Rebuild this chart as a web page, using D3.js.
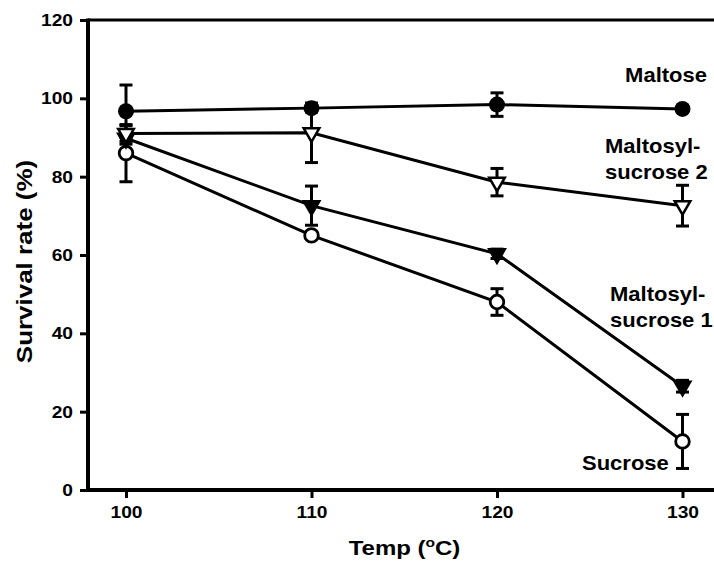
<!DOCTYPE html>
<html>
<head>
<meta charset="utf-8">
<script src="https://cdn.jsdelivr.net/npm/d3@7"></script>
<style>
  body { margin: 0; background: #fff; }
  text { font-family: "Liberation Sans", Arial, sans-serif; font-weight: bold; fill: #000; }
</style>
</head>
<body>
<div id="chart"></div>
<script>
// Data
const temps = [100, 110, 120, 130];
const yTicks = [0, 20, 40, 60, 80, 100, 120];

const maltose = [96.7, 97.5, 98.4, 97.3];
const maltoseErr = [6.7, 1.0, 3.0, 0.8];

const ms2 = [91.0, 91.2, 78.6, 72.6];
const ms2Err = [2.0, 7.6, 3.5, 5.2];

const ms1 = [89.8, 72.6, 60.3, 26.5];
const ms1Err = [1.5, 5.0, 1.2, 1.5];

const sucrose = [86.0, 65.0, 48.0, 12.4];
const sucroseErr = [7.3, 0.8, 3.4, 6.9];

const width = 714, height = 562;
const plotLeft = 88, plotTop = 20, plotBottom = 490;
// the original type is a bit wider than Arial, so stretch text horizontally
const tickStretch = 1.13;

const svg = d3.select("#chart").append("svg")
    .attr("width", width)
    .attr("height", height);

const x = d3.scaleLinear().domain([100, 130]).range([126, 682.5]);
const y = d3.scaleLinear().domain([0, 120]).range([plotBottom, plotTop]);

// Axes
const yAxis = svg.append("g")
    .attr("transform", `translate(${plotLeft},0)`)
    .call(d3.axisLeft(y).tickValues(yTicks).tickSize(8).tickPadding(8));
yAxis.select(".domain").remove();
yAxis.selectAll("line").attr("stroke", "#000").attr("stroke-width", 3);
yAxis.selectAll("text")
    .style("font-size", "17px").attr("fill", "#000")
    .attr("x", -15 / tickStretch)
    .attr("transform", `scale(${tickStretch},1)`);

const xAxis = svg.append("g")
    .attr("transform", `translate(0,${plotBottom})`)
    .call(d3.axisBottom(x).tickValues(temps).tickSize(8).tickPadding(8));
xAxis.select(".domain").remove();
xAxis.selectAll("line").attr("stroke", "#000").attr("stroke-width", 3);
xAxis.selectAll("text")
    .style("font-size", "17px").attr("fill", "#000")
    .attr("transform", `scale(${tickStretch},1)`);

// frame lines: left axis, bottom axis, top line
svg.append("line").attr("x1", plotLeft).attr("x2", plotLeft).attr("y1", plotTop - 1.5).attr("y2", plotBottom + 2)
    .attr("stroke", "#000").attr("stroke-width", 4);
svg.append("line").attr("x1", plotLeft - 2).attr("x2", width).attr("y1", plotBottom).attr("y2", plotBottom)
    .attr("stroke", "#000").attr("stroke-width", 4);
svg.append("line").attr("x1", plotLeft).attr("x2", width).attr("y1", plotTop).attr("y2", plotTop)
    .attr("stroke", "#000").attr("stroke-width", 3);

const series = [
    { name: "sucrose", values: sucrose, err: sucroseErr, marker: "circle", fill: "#fff" },
    { name: "ms1", values: ms1, err: ms1Err, marker: "triangle", fill: "#000" },
    { name: "maltose", values: maltose, err: maltoseErr, marker: "circle", fill: "#000" },
    { name: "ms2", values: ms2, err: ms2Err, marker: "triangle", fill: "#fff" }
];

const line = d3.line()
    .x((d, i) => x(temps[i]))
    .y(d => y(d));

// connecting lines
series.forEach(s => {
    svg.append("path")
        .datum(s.values)
        .attr("fill", "none")
        .attr("stroke", "#000")
        .attr("stroke-width", 3)
        .attr("d", line);
});

// error bars
series.forEach(s => {
    const g = svg.append("g").attr("stroke", "#000").attr("stroke-width", 3);
    s.values.forEach((v, i) => {
        const cx = x(temps[i]);
        g.append("line").attr("x1", cx).attr("x2", cx)
            .attr("y1", y(v - s.err[i])).attr("y2", y(v + s.err[i]));
        [v - s.err[i], v + s.err[i]].forEach(e => {
            g.append("line").attr("x1", cx - 6.5).attr("x2", cx + 6.5)
                .attr("y1", y(e)).attr("y2", y(e));
        });
    });
});

// markers
const tri = d3.symbol().type(d3.symbolTriangle).size(105);
series.forEach(s => {
    s.values.forEach((v, i) => {
        const cx = x(temps[i]), cy = y(v);
        if (s.marker === "circle") {
            svg.append("circle")
                .attr("cx", cx).attr("cy", cy)
                .attr("r", s.fill === "#000" ? 8 : 6.8)
                .attr("fill", s.fill)
                .attr("stroke", "#000")
                .attr("stroke-width", s.fill === "#000" ? 0 : 2.8);
        } else {
            svg.append("path")
                .attr("d", tri())
                .attr("transform", `translate(${cx},${cy}) rotate(180)`)
                .attr("fill", s.fill)
                .attr("stroke", "#000")
                .attr("stroke-width", 2.5)
                .attr("stroke-linejoin", "miter");
        }
    });
});

// series labels
const labels = [
    { lines: ["Maltose"], x: 707, y: 82, anchor: "end" },
    { lines: ["Maltosyl-", "sucrose 2"], x: 605, y: 153, anchor: "start" },
    { lines: ["Maltosyl-", "sucrose 1"], x: 610, y: 301, anchor: "start" },
    { lines: ["Sucrose"], x: 582, y: 470, anchor: "start" }
];
labels.forEach(l => {
    l.lines.forEach((t, k) => {
        svg.append("text")
            .attr("transform", `translate(${l.x},${l.y + k * 26}) scale(1.1,1)`)
            .attr("text-anchor", l.anchor)
            .style("font-size", "20px")
            .text(t);
    });
});

// axis titles
svg.append("text")
    .attr("transform", "translate(31.5,261.5) rotate(-90) scale(1.18,1)")
    .attr("text-anchor", "middle")
    .style("font-size", "22px")
    .text("Survival rate (%)");

const xt = svg.append("text")
    .attr("transform", "translate(404.5,555) scale(1.2,1)")
    .attr("text-anchor", "middle")
    .style("font-size", "20px");
xt.append("tspan").text("Temp (");
xt.append("tspan").attr("dy", -8).style("font-size", "13px").text("o");
xt.append("tspan").attr("dy", 8).text("C)");
</script>
</body>
</html>
